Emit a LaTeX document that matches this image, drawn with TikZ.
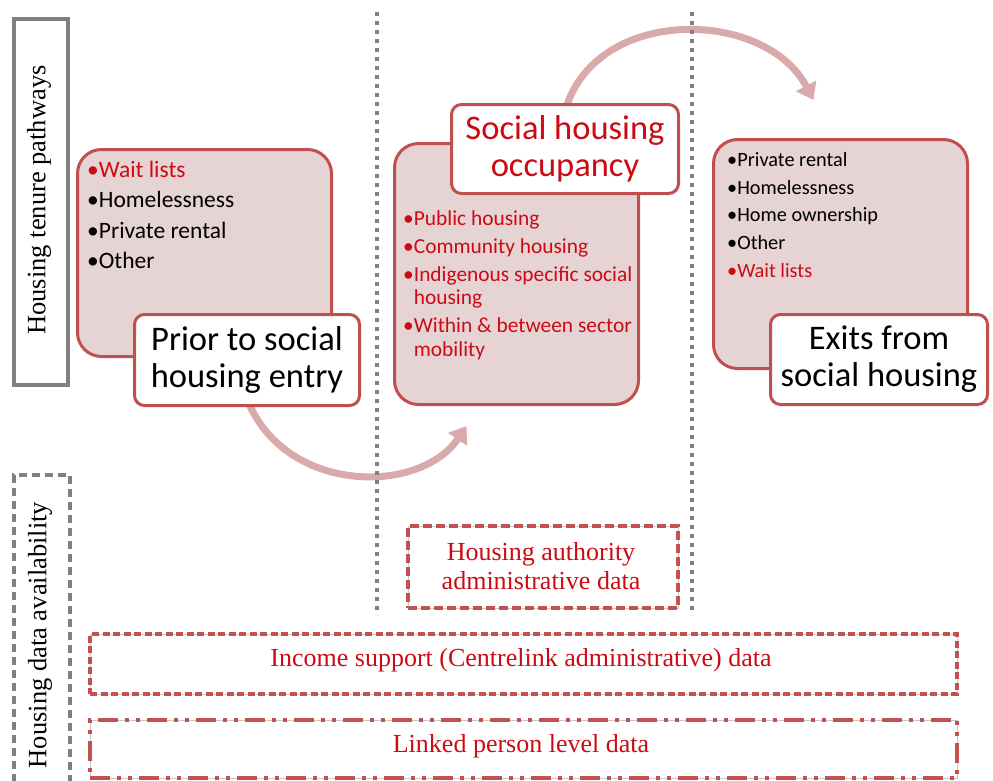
\documentclass[tikz,border=0pt]{standalone}
\usepackage{fontspec}
\setmainfont{Liberation Serif}
\newfontfamily\calfont{Carlito}
\usetikzlibrary{arrows.meta}
\pgfdeclarelayer{background}
\pgfsetlayers{background,main}
\definecolor{bord}{RGB}{192,80,77}
\definecolor{pinkfill}{RGB}{230,211,211}
\definecolor{redtxt}{RGB}{204,10,20}
\definecolor{arrowc}{RGB}{218,170,170}
\definecolor{grayl}{RGB}{128,128,128}
\definecolor{dashred}{RGB}{196,80,80}
\begin{document}
\begin{tikzpicture}[x=1pt,y=-1pt,
  pinkbox/.style={draw=bord, line width=3pt, fill=pinkfill, rounded corners=24pt, anchor=north west, inner sep=0pt},
  labelbox/.style={draw=bord, line width=3pt, fill=white, rounded corners=10pt, anchor=north west, inner sep=0pt, align=center, font=\calfont\fontsize{34.5}{37}\selectfont},
  listtext/.style={anchor=north west, align=left, inner sep=0pt},
  bigarrow/.style={draw=arrowc, line width=7pt, -{Triangle[width=22pt,length=16pt]}},
  sepline/.style={draw=grayl, line width=4pt, dash pattern=on 4pt off 5pt},
  sidebox/.style={draw=grayl, line width=3.5pt, anchor=north west, inner sep=0pt},
  sidetext/.style={rotate=90, font=\fontsize{26.5}{30}\selectfont, inner sep=0pt},
  datatext/.style={text=redtxt, font=\fontsize{26}{29}\selectfont, align=center, inner sep=0pt},
  databox/.style={draw=dashred, line width=4pt, anchor=north west, inner sep=0pt,
    preaction={draw=gray!45, line width=0.7pt, solid}}
]
\useasboundingbox (0,0) rectangle (993,780);

% side labels
\node[sidebox, minimum width=54pt, minimum height=366pt] (s1) at (12,17) {};
\node[sidetext] (s1t) at (39,200) {Housing tenure pathways};
\node[sidebox, dash pattern=on 8pt off 5pt, minimum width=56pt, minimum height=330pt] (s2) at (12,473) {};
\node[sidetext] (s2t) at (40,635) {Housing data availability};

% pink boxes
\node[pinkbox, minimum width=254pt, minimum height=207pt] (b1) at (76,148) {};
\node[pinkbox, minimum width=244pt, minimum height=261pt] (b2) at (393,142) {};
\node[pinkbox, minimum width=254pt, minimum height=229pt] (b3) at (712,138) {};

% list texts
\node[listtext, font=\calfont\fontsize{23.5}{30.3}\selectfont] (t1) at (87,161) {%
  \textcolor{redtxt}{•Wait lists}\\
  •Homelessness\\
  •Private rental\\
  •Other};
\node[listtext, text=redtxt, font=\calfont\fontsize{21.4}{23.5}\selectfont] (t2) at (403,210) {%
  •Public housing\\[4.5pt]
  •Community housing\\[4.5pt]
  •Indigenous specific social\\
  \phantom{•}housing\\[4.5pt]
  •Within \& between sector\\
  \phantom{•}mobility};
\node[listtext, font=\calfont\fontsize{20.3}{27.7}\selectfont] (t3) at (727,152) {%
  •Private rental\\
  •Homelessness\\
  •Home ownership\\
  •Other\\
  \textcolor{redtxt}{•Wait lists}};

% label boxes
\node[labelbox, minimum width=225pt, minimum height=91pt] (l1) at (133,313) {Prior to social\\housing entry};
\node[labelbox, text=redtxt, minimum width=227pt, minimum height=89pt] (l2) at (450,103) {Social housing\\occupancy};
\node[labelbox, minimum width=217pt, minimum height=90pt] (l3) at (769,313) {Exits from\\social housing};

% connectors (curved arrows), behind the label boxes
\begin{pgfonlayer}{background}
\draw[bigarrow] ([yshift=8pt]l1.south) .. controls (285,495) and (420,495) .. ([shift={(-50,20)}]b2.south);
\draw[bigarrow] ([yshift=-8pt]l2.north) .. controls (595,5) and (765,8) .. ([shift={(-27,-38)}]b3.north);
\end{pgfonlayer}

% separators
\draw[sepline] (377,12) -- (377,615);
\draw[sepline] (692,12) -- (692,615);

% data boxes
\node[databox, dash pattern=on 9pt off 4pt, minimum width=270pt, minimum height=82pt] (d1) at (406,524) {};
\node[datatext] (d1t) at (541,566) {Housing authority\\administrative data};
\node[databox, dash pattern=on 7pt off 3.5pt, minimum width=867pt, minimum height=60pt] (d2) at (88,632) {};
\node[datatext] (d2t) at (521,660) {Income support (Centrelink administrative) data};
\node[databox, dash pattern=on 20pt off 7pt on 4pt off 7pt on 4pt off 7pt, minimum width=867pt, minimum height=58pt] (d3) at (88,718) {};
\node[datatext] (d3t) at (521,746) {Linked person level data};
\end{tikzpicture}
\end{document}
